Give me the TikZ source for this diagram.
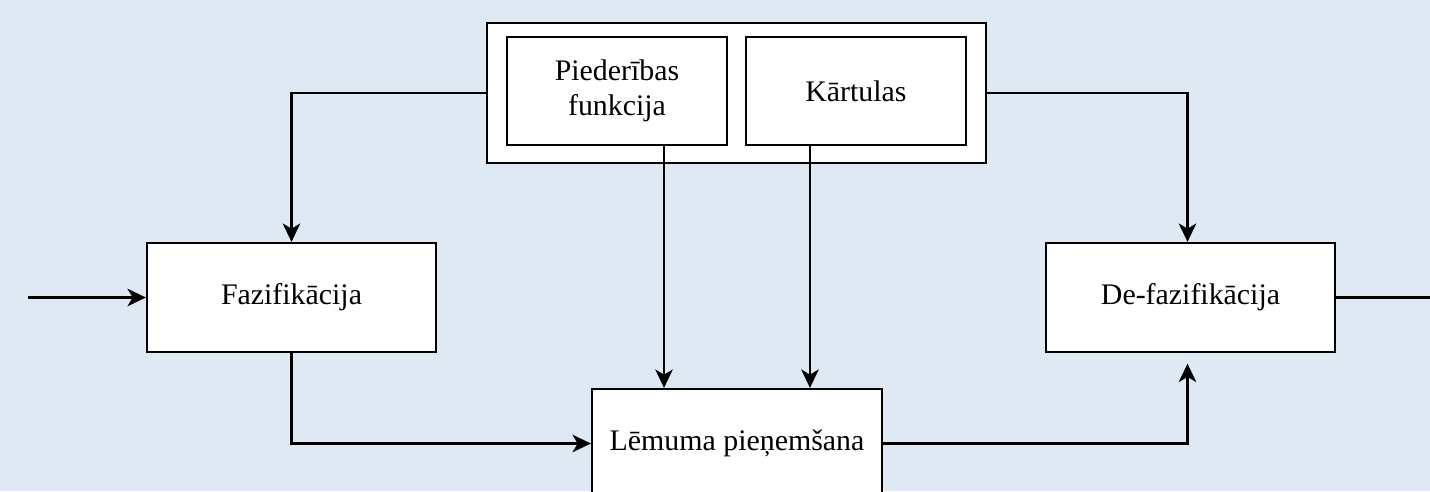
\documentclass[tikz,border=0pt]{standalone}
\usepackage{fontspec}
\setmainfont{Liberation Serif}
\usetikzlibrary{arrows.meta}
\definecolor{paleblue}{RGB}{223, 233, 244}

\begin{document}
\begin{tikzpicture}[x=0.02cm, y=-0.02cm,
        block/.style={draw, fill=white, line width=1.3pt, inner sep=2pt, align=center,
                      font=\fontsize{17}{20}\selectfont},
        arrow/.style={line width=1.3pt, -{Stealth[length=10.5pt, width=10pt, inset=3pt]}},
        wire/.style={line width=1.3pt}]
    \fill[paleblue] (0, 0) rectangle (1430, 491);
    \clip (0, 0) rectangle (1430, 491);
    % knowledge base with its two parts
    \node[block, minimum width=9.98cm, minimum height=2.80cm] (base)  at (736.5,  93.0) {};
    \node[block, minimum width=4.40cm, minimum height=2.16cm] (pied)  at (617.0,  91.0) {Piederības\\funkcija};
    \node[block, minimum width=4.40cm, minimum height=2.16cm] (kart)  at (856.0,  91.0) {Kārtulas};
    % main stages
    \node[block, minimum width=5.78cm, minimum height=2.18cm] (faz)   at (291.5, 297.5) {Fazifikācija};
    \node[block, minimum width=5.80cm, minimum height=2.18cm] (lem)   at (737.0, 443.5) {Lēmuma pieņemšana};
    \node[block, minimum width=5.78cm, minimum height=2.18cm] (defaz) at (1190.5, 297.5) {De-fazifikācija};
    \coordinate (in)  at (28, 297.5);
    \coordinate (out) at (1430, 297.5);
    \coordinate (p1) at ([xshift=-1.46cm]lem.north);
    \coordinate (p2) at ([xshift= 1.46cm]lem.north);
    % connectors
    \draw[arrow] (in) -- (faz.west);
    \draw[arrow] (base.west) -| (faz.north);
    \draw[arrow] (base.east) -| ([xshift=-0.06cm]defaz.north);
    \draw[arrow] (p1 |- pied.south) -- (p1);
    \draw[arrow] (p2 |- kart.south) -- (p2);
    \draw[arrow] (faz.south) |- (lem.west);
    \draw[arrow, shorten >=6pt] (lem.east) -| ([xshift=-0.06cm]defaz.south);
    \draw[wire] (defaz.east) -- (out);
\end{tikzpicture}
\end{document}
